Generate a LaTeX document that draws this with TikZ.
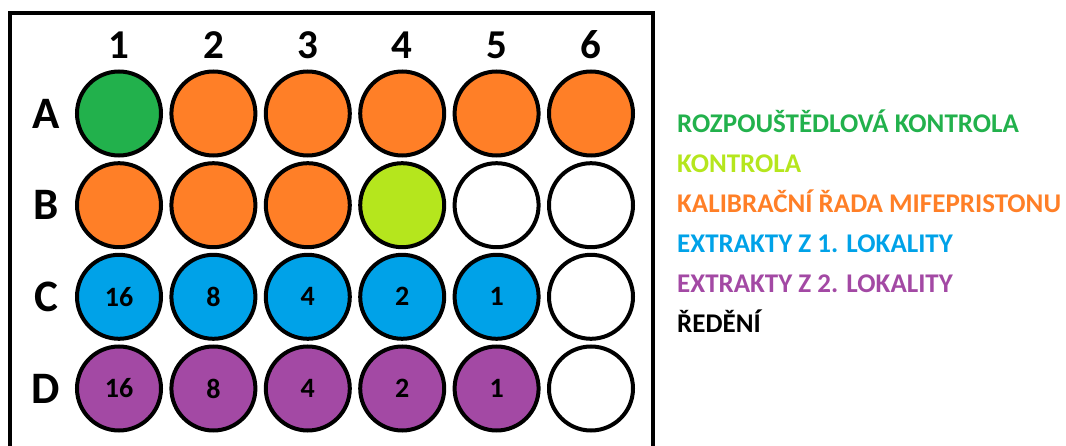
\documentclass[tikz,border=0pt]{standalone}
\usepackage{fontspec}
\setmainfont{Carlito}
\usetikzlibrary{positioning}
\definecolor{zelena}{HTML}{22B14C}
\definecolor{limetka}{HTML}{B5E61D}
\definecolor{oranzova}{HTML}{FF7F27}
\definecolor{modra}{HTML}{00A2E8}
\definecolor{fialova}{HTML}{A349A4}
\begin{document}
\begin{tikzpicture}[x=1pt, y=-1pt,
		well/.style={circle, draw, line width=4pt, minimum size=84pt, inner sep=0pt, font=\fontsize{28}{28}\selectfont\bfseries},
		collabel/.style={inner sep=0pt, font=\fontsize{41}{41}\selectfont\bfseries},
		rowlabel/.style={inner sep=0pt, font=\fontsize{45}{45}\selectfont\bfseries},
		legend/.style={anchor=base west, inner sep=0pt, font=\fontsize{27}{27}\selectfont\bfseries}]
		%Bildbereich
		\useasboundingbox (0,0) rectangle (1066,446);
		\clip (0,0) rectangle (1066,446);
		% destička
		\draw[line width=4pt] (9.5,470) -- (9.5,13.5) -- (652.5,13.5) -- (652.5,470);
		% popisky sloupcu a radku
		\foreach \i in {1,...,6} \node[collabel] (s\i) at ({119+94.4*(\i-1)},45) {\i};
		\foreach \r [count=\j] in {A,B,C,D} \node[rowlabel] (r\r) at (46,{113.5+91.67*(\j-1)}) {\r};
		% jamky A a B
		\foreach \barva [count=\i] in {zelena,oranzova,oranzova,oranzova,oranzova,oranzova}
			\node[well, fill=\barva] (A\i) at ({119+94.4*(\i-1)},113.5) {};
		\foreach \barva [count=\i] in {oranzova,oranzova,oranzova,limetka,white,white}
			\node[well, fill=\barva] (B\i) at ({119+94.4*(\i-1)},205.2) {};
		% jamky C a D s redenim
		\foreach \n [count=\i] in {16,8,4,2,1} {
			\node[well, fill=modra] (C\i) at ({119+94.4*(\i-1)},296.8) {\n};
			\node[well, fill=fialova] (D\i) at ({119+94.4*(\i-1)},388.5) {\n};
		}
		\node[well] (C6) at (591,296.8) {};
		\node[well] (D6) at (591,388.5) {};
		% legenda
		\foreach \txt/\barva [count=\k] in {ROZPOUŠTĚDLOVÁ KONTROLA/zelena, KONTROLA/limetka,
			KALIBRAČNÍ ŘADA MIFEPRISTONU/oranzova, EXTRAKTY Z 1. LOKALITY/modra,
			EXTRAKTY Z 2. LOKALITY/fialova, ŘEDĚNÍ/black}
			\node[legend, text=\barva] (l\k) at (677,{133+40*(\k-1)}) {\txt};
	\end{tikzpicture}
\end{document}
